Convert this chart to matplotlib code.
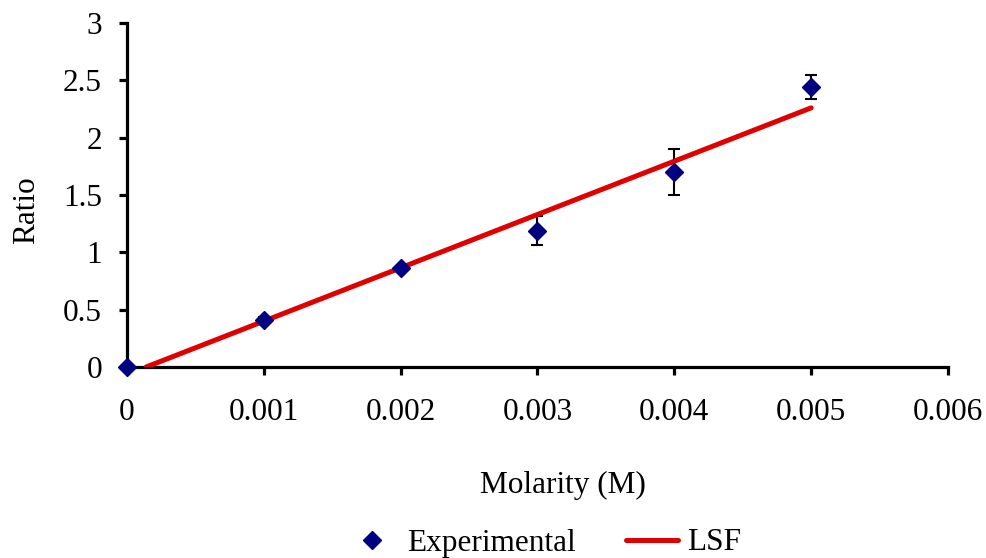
import matplotlib
matplotlib.use("Agg")
import matplotlib.pyplot as plt

# Data
molarity = [0.0, 0.001, 0.002, 0.003, 0.004, 0.005]
ratio = [0.0, 0.41, 0.86, 1.19, 1.70, 2.44]
ratio_err = [0.0, 0.03, 0.02, 0.13, 0.20, 0.105]

lsf_x = [0.00014, 0.005]
lsf_y = [0.0, 2.26]

xticks = [0, 0.001, 0.002, 0.003, 0.004, 0.005, 0.006]
xticklabels = ["0", "0.001", "0.002", "0.003", "0.004", "0.005", "0.006"]
yticks = [0, 0.5, 1, 1.5, 2, 2.5, 3]
yticklabels = ["0", "0.5", "1", "1.5", "2", "2.5", "3"]

plt.rcParams['font.family'] = ['Liberation Serif', 'DejaVu Serif']

fig = plt.figure(figsize=(9.87, 5.58), dpi=100)
ax = fig.add_axes([127/987, 1-367/558, (948-127)/987, (367-23)/558])

ax.errorbar(molarity, ratio, yerr=ratio_err, fmt='none', ecolor='black',
            elinewidth=1.5, capsize=4.3, capthick=1.5, zorder=2)
ln_lsf, = ax.plot(lsf_x, lsf_y, color='#e00000', linewidth=3.6,
                  solid_capstyle='round', label='LSF', zorder=3)
ln_exp, = ax.plot(molarity, ratio, linestyle='none', marker='D', markersize=9,
                  color='#000080', label='Experimental', zorder=4, clip_on=False)

ax.set_xlim(0, 0.006)
ax.set_ylim(0, 3)
ax.set_xticks(xticks)
ax.set_xticklabels(xticklabels)
ax.set_yticks(yticks)
ax.set_yticklabels(yticklabels)

for s in ['top', 'right']:
    ax.spines[s].set_visible(False)
for s in ['left', 'bottom']:
    ax.spines[s].set_linewidth(2.3)

ax.tick_params(axis='both', direction='out', length=6, width=2.3, labelsize=22.5)
ax.tick_params(axis='x', pad=16)
ax.tick_params(axis='y', pad=12)

ax.set_xlabel('Molarity (M)', fontsize=22.5, va='center')
ax.set_ylabel('Ratio', fontsize=22.5, va='center')
ax.xaxis.set_label_coords((563-127)/821, (367-485)/344)
ax.yaxis.set_label_coords((27-127)/821, (367-210)/344)

fig.legend(handles=[ln_exp, ln_lsf], loc='center', bbox_to_anchor=(544/987, 1-543/558),
           ncol=2, frameon=False, fontsize=22.5, handlelength=1.65, columnspacing=1.6,
           handletextpad=0.3)

fig.savefig('out.png', dpi=100)
